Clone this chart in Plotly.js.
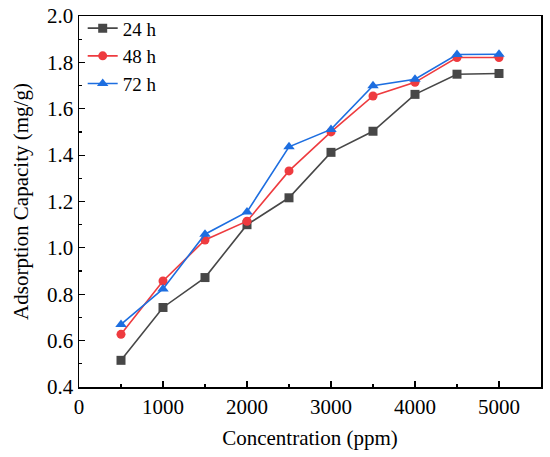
<!DOCTYPE html>
<html><head><meta charset="utf-8">
<script src="https://cdn.plot.ly/plotly-3.0.1.min.js"></script>
<style>html,body{margin:0;padding:0;background:#fff}#c{width:550px;height:457px}</style>
</head><body><div id="c"></div>
<script>
const conc = [500,1000,1500,2000,2500,3000,3500,4000,4500,5000];
const h24 = [0.515,0.743,0.872,1.100,1.216,1.412,1.503,1.662,1.749,1.752];
const h48 = [0.627,0.857,1.034,1.115,1.332,1.500,1.655,1.714,1.821,1.821];
const h72 = [0.670,0.823,1.059,1.155,1.436,1.511,1.699,1.727,1.834,1.835];
const names = ['24 h','48 h','72 h'];
const colors = ['#474747','#ee3b3f','#1d6ee0'];
const symbols = ['square','circle','triangle-up'];
const series = [h24,h48,h72];
const traces = series.map((ys,i)=>({
  x: conc, y: ys, name: names[i], type:'scatter', mode:'lines+markers',
  line:{color:colors[i], width:1.6},
  marker:{symbol:symbols[i], size: i===2?10:9, color:colors[i]}
}));
const fam = 'Liberation Serif, DejaVu Serif, serif';
const f = s => ({family:fam, size:s, color:'#000'});
const layout = {
  width:550, height:457,
  margin:{l:79,r:9,t:16,b:70},
  paper_bgcolor:'#fff', plot_bgcolor:'#fff',
  font:f(21),
  showlegend:true,
  legend:{x:0.008,y:1.018,xanchor:'left',yanchor:'top',bgcolor:'rgba(0,0,0,0)',font:f(19),tracegroupgap:0,itemwidth:30},
  xaxis:{range:[0,5500],dtick:1000,tick0:0,showgrid:false,zeroline:false,
    showline:true,mirror:true,linecolor:'#000',linewidth:1.5,
    ticks:'inside',ticklen:6,tickwidth:1.2,tickcolor:'#000',
    minor:{dtick:500,ticks:'inside',ticklen:3,tickwidth:1.2,tickcolor:'#000',showgrid:false},
    tickfont:f(21),
    title:{text:'Concentration (ppm)',font:f(21),standoff:12}},
  yaxis:{range:[0.4,2.0],dtick:0.2,tick0:0.4,tickformat:'.1f',showgrid:false,zeroline:false,
    showline:true,mirror:true,linecolor:'#000',linewidth:1.5,
    ticks:'inside',ticklen:6,tickwidth:1.2,tickcolor:'#000',
    minor:{dtick:0.1,ticks:'inside',ticklen:3,tickwidth:1.2,tickcolor:'#000',showgrid:false},
    tickfont:f(21),
    title:{text:'Adsorption Capacity (mg/g)',font:f(21),standoff:12}}
};
Plotly.newPlot('c',traces,layout,{displayModeBar:false,staticPlot:true});
</script></body></html>
